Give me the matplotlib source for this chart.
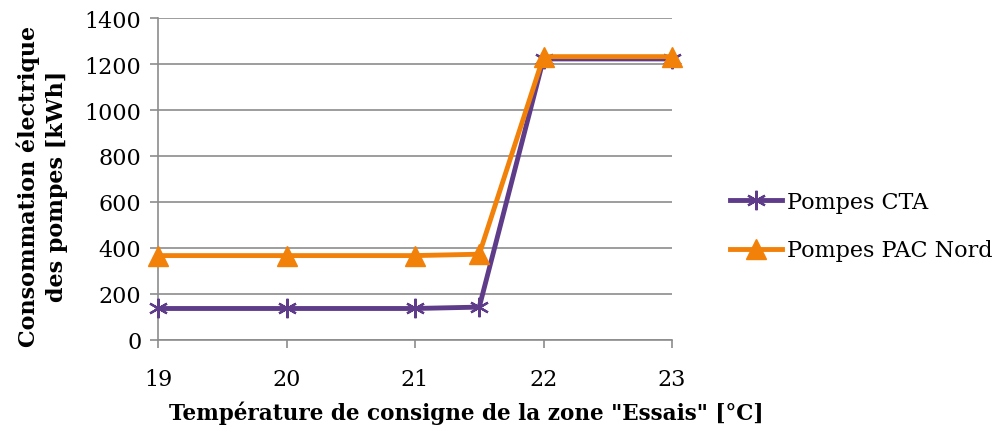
import matplotlib
matplotlib.use("Agg")
import matplotlib.pyplot as plt

temperatures = [19, 20, 21, 21.5, 22, 23]
pompes_cta = [137, 137, 137, 143, 1222, 1222]
pompes_pac_nord = [367, 367, 367, 373, 1232, 1232]
y_ticks = [0, 200, 400, 600, 800, 1000, 1200, 1400]
x_ticks = [19, 20, 21, 22, 23]

plt.rcParams['font.family'] = ['DejaVu Serif']
W, H = 1003, 431
fig = plt.figure(figsize=(W / 100, H / 100), dpi=100)
ax = fig.add_axes([158 / W, 1 - 341 / H, (672 - 158) / W, (341 - 19) / H])

grey = '#8c8c8c'
ax.plot(temperatures, pompes_cta, color='#5e3c8a', lw=3.5, marker=(6, 2, 0),
        ms=14, mew=1.6, label='Pompes CTA', zorder=3, clip_on=False)
ax.plot(temperatures, pompes_pac_nord, color='#f28109', lw=3.5, marker='^',
        ms=14, label='Pompes PAC Nord', zorder=4, clip_on=False)

ax.set_xlim(19, 23)
ax.set_ylim(0, 1400)
ax.set_xticks(x_ticks)
ax.set_yticks(y_ticks)
ax.yaxis.grid(True, color=grey, lw=1.2)
ax.set_axisbelow(True)
for side in ('top', 'right'):
    ax.spines[side].set_visible(False)
for side in ('left', 'bottom'):
    ax.spines[side].set_color(grey)
    ax.spines[side].set_linewidth(1.2)
ax.tick_params(axis='both', colors=grey, labelcolor='black', length=6, width=1.2,
               labelsize=16)
ax.tick_params(axis='x', pad=14)
ax.tick_params(axis='y', pad=6)

# axis titles
fig.text(466 / W, 1 - 413 / H, 'Température de consigne de la zone "Essais" [°C]',
         fontsize=15.5, fontweight='bold', ha='center', va='center')
fig.text(42 / W, 1 - 186 / H, 'Consommation électrique\ndes pompes [kWh]',
         fontsize=16, fontweight='bold', ha='center', va='center',
         rotation=90, linespacing=1.35, multialignment='center')

ax.legend(loc='center left', bbox_to_anchor=(1.073, 0.354), frameon=False,
          fontsize=16, handlelength=2.35, labelspacing=1.2, handletextpad=0.25)

fig.savefig('out.png', dpi=100)
